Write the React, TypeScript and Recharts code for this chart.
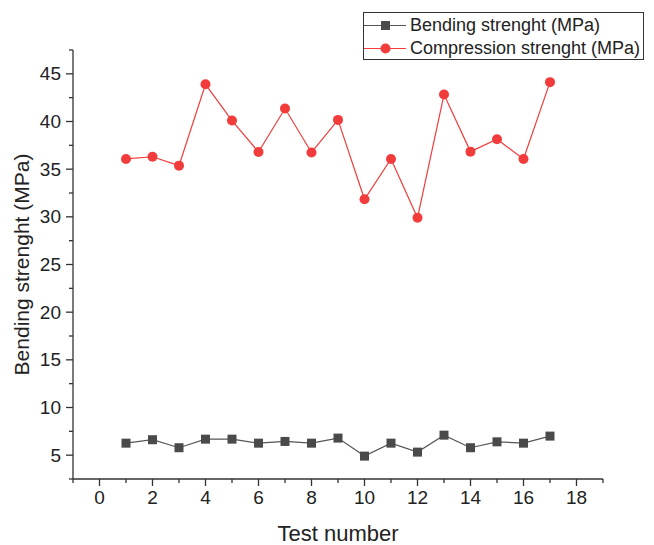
import React from "react";
import { LineChart, Line, XAxis, YAxis, Legend, Label } from "recharts";

const testNumbers = [1, 2, 3, 4, 5, 6, 7, 8, 9, 10, 11, 12, 13, 14, 15, 16, 17];
const bending = [6.26, 6.62, 5.78, 6.68, 6.68, 6.26, 6.44, 6.26, 6.79, 4.9, 6.26, 5.32, 7.1, 5.78, 6.4, 6.26, 7.0];
const compression = [36.07, 36.3, 35.37, 43.9, 40.1, 36.8, 41.36, 36.75, 40.17, 31.84, 36.07, 29.9, 42.83, 36.84, 38.14, 36.07, 44.13];
const xTicks = [-1, 0, 1, 2, 3, 4, 5, 6, 7, 8, 9, 10, 11, 12, 13, 14, 15, 16, 17, 18, 19];
const yTicks = [2.5, 5, 7.5, 10, 12.5, 15, 17.5, 20, 22.5, 25, 27.5, 30, 32.5, 35, 37.5, 40, 42.5, 45, 47.5];
const seriesNames = ["Bending strenght (MPa)", "Compression strenght (MPa)"];

const data = testNumbers.map((t, i) => ({ test: t, bending: bending[i], compression: compression[i] }));

const FONT = "'Liberation Sans', Arial, sans-serif";
const TXT = "#222";
const AXIS = "#333";
const RED = "#f23c3c";
const GRAY = "#4a4a4a";

const YTick = (props: any) => {
  const { x, y, payload } = props;
  const v = payload.value;
  const major = Math.abs(v % 5) < 1e-6;
  return (
    <g>
      <line x1={x} x2={x - (major ? 7 : 4)} y1={y} y2={y} stroke={AXIS} strokeWidth={1.3} />
      {major && v >= 5 && v <= 45 ? (
        <text x={x - 12} y={y} dy={6.5} textAnchor="end" fontFamily={FONT} fontSize={19} fill={TXT}>
          {v}
        </text>
      ) : null}
    </g>
  );
};

const XTick = (props: any) => {
  const { x, y, payload } = props;
  const v = payload.value;
  const major = v % 2 === 0;
  return (
    <g>
      <line x1={x} x2={x} y1={y} y2={y + (major ? 7 : 4)} stroke={AXIS} strokeWidth={1.3} />
      {major ? (
        <text x={x} y={y} dy={25} textAnchor="middle" fontFamily={FONT} fontSize={19} fill={TXT}>
          {v}
        </text>
      ) : null}
    </g>
  );
};

const SquareDot = (props: any) => {
  const { cx, cy } = props;
  if (cx == null || cy == null) return null;
  return <rect x={cx - 4.5} y={cy - 4.5} width={9} height={9} fill={GRAY} />;
};

const RoundDot = (props: any) => {
  const { cx, cy } = props;
  if (cx == null || cy == null) return null;
  return <circle cx={cx} cy={cy} r={5} fill={RED} />;
};

const LegendBox = () => (
  <div
    style={{
      width: 281,
      height: 48,
      border: "1px solid #333",
      background: "#fff",
      fontFamily: FONT,
      fontSize: 18,
      color: TXT,
      boxSizing: "border-box",
      paddingTop: 1,
    }}
  >
    {[0, 1].map((i) => (
      <div key={i} style={{ display: "flex", alignItems: "center", height: 23 }}>
        <svg width={44} height={23} style={{ display: "block" }}>
          <line x1={0} x2={42} y1={11.5} y2={11.5} stroke={i === 0 ? "#555" : RED} strokeWidth={1.2} />
          {i === 0 ? (
            <rect x={17} y={7} width={9} height={9} fill={GRAY} />
          ) : (
            <circle cx={21.5} cy={11.5} r={5} fill={RED} />
          )}
        </svg>
        <span style={{ marginLeft: 2, whiteSpace: "nowrap", lineHeight: "23px" }}>{seriesNames[i]}</span>
      </div>
    ))}
  </div>
);

export default function App() {
  return (
    <LineChart
      width={646}
      height={537}
      data={data}
      margin={{ top: 42, right: 51, bottom: 36, left: 5 }}
    >
      <XAxis
        type="number"
        dataKey="test"
        domain={[-1, 19]}
        ticks={xTicks}
        interval={0}
        allowDataOverflow
        height={30}
        tickSize={0}
        tickMargin={0}
        tickLine={false}
        axisLine={{ stroke: AXIS, strokeWidth: 1.3 }}
        tick={<XTick />}
      >
        <Label
          content={(p: any) => {
            const vb = p.viewBox;
            return (
              <text
                x={vb.x + vb.width / 2}
                y={525}
                dy={8}
                textAnchor="middle"
                fontFamily={FONT}
                fontSize={22}
                fill={TXT}
              >
                Test number
              </text>
            );
          }}
        />
      </XAxis>
      <YAxis
        type="number"
        domain={[2.5, 47.5]}
        ticks={yTicks}
        interval={0}
        allowDataOverflow
        width={60}
        tickSize={0}
        tickMargin={0}
        tickLine={false}
        axisLine={{ stroke: AXIS, strokeWidth: 1.3 }}
        tick={<YTick />}
      >
        <Label
          content={(p: any) => {
            const vb = p.viewBox;
            const cy = vb.y + vb.height / 2;
            return (
              <text
                x={14}
                y={cy}
                transform={`rotate(-90, 14, ${cy})`}
                dy={7}
                textAnchor="middle"
                fontFamily={FONT}
                fontSize={21}
                fill={TXT}
              >
                Bending strenght (MPa)
              </text>
            );
          }}
        />
      </YAxis>
      <Legend
        layout="vertical"
        align="center"
        verticalAlign="middle"
        content={() => <LegendBox />}
        wrapperStyle={{ left: 355, top: 4, width: 281, height: 48 }}
      />
      <Line
        type="linear"
        dataKey="bending"
        name={seriesNames[0]}
        stroke="#555"
        strokeWidth={1.2}
        dot={<SquareDot />}
        activeDot={false}
        isAnimationActive={false}
      />
      <Line
        type="linear"
        dataKey="compression"
        name={seriesNames[1]}
        stroke={RED}
        strokeWidth={1.2}
        dot={<RoundDot />}
        activeDot={false}
        isAnimationActive={false}
      />
    </LineChart>
  );
}
